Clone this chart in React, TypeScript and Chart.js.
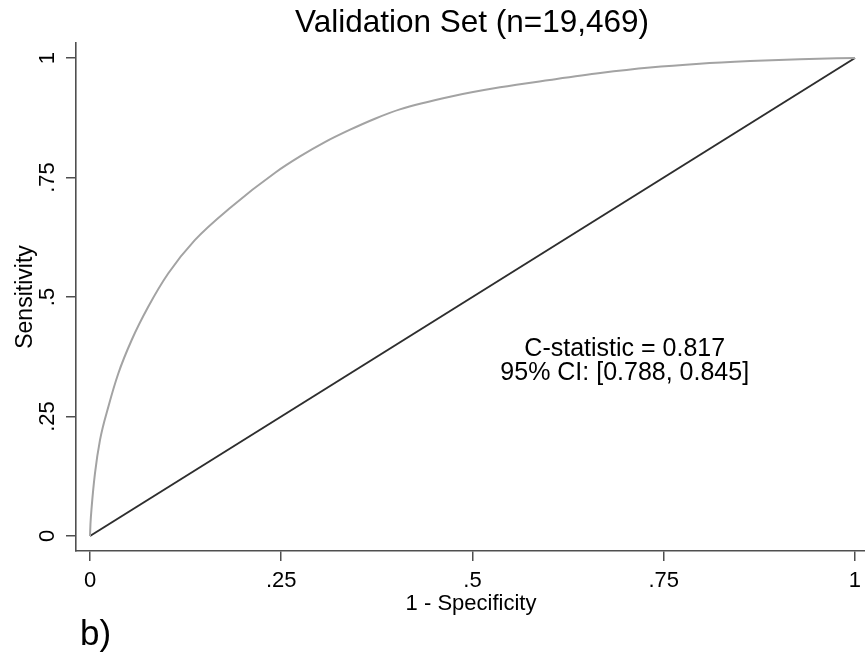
import React, { useEffect, useRef } from "react";
import { Chart, registerables } from "chart.js";

Chart.register(...registerables);

// ROC curve (1 - specificity, sensitivity)
const rocFpr = [0, 0.0006, 0.0022, 0.0065, 0.0131, 0.024, 0.037, 0.0545, 0.0763, 0.1024, 0.137, 0.185, 0.242, 0.2745, 0.307, 0.34, 0.3725, 0.405, 0.4706, 0.536, 0.601, 0.667, 0.732, 0.797, 0.863, 0.928, 1];
const rocTpr = [0, 0.025, 0.061, 0.131, 0.201, 0.2705, 0.34, 0.41, 0.48, 0.5496, 0.619, 0.689, 0.76, 0.794, 0.824, 0.85, 0.873, 0.8925, 0.919, 0.9386, 0.954, 0.9685, 0.98, 0.988, 0.9935, 0.9975, 1];

// reference (chance) line
const refX = [0, 1];
const refY = [0, 1];

const tickValues = [0, 0.25, 0.5, 0.75, 1];
const tickLabels = ["0", ".25", ".5", ".75", "1"];

const titleText = "Validation Set (n=19,469)";
const xTitle = "1 - Specificity";
const yTitle = "Sensitivity";
const noteLines = ["C-statistic = 0.817", "95% CI: [0.788, 0.845]"];
const panelLabel = "b)";

const FONT = '"Liberation Sans", Arial, sans-serif';

export default function App() {
  const ref = useRef<HTMLCanvasElement | null>(null);

  useEffect(() => {
    const canvas = ref.current;
    if (!canvas) return;

    const textPlugin = {
      id: "stataText",
      afterDraw(chart: any) {
        const ctx = chart.ctx;
        const xs = chart.scales.x;
        const ys = chart.scales.y;
        const area = chart.chartArea;
        ctx.save();
        ctx.fillStyle = "#000";

        // title
        ctx.font = `31.5px ${FONT}`;
        ctx.textAlign = "center";
        ctx.textBaseline = "alphabetic";
        ctx.fillText(titleText, 472, 32);

        // x tick labels
        ctx.font = `22px ${FONT}`;
        tickValues.forEach((v, i) => {
          ctx.fillText(tickLabels[i], xs.getPixelForValue(v), 587);
        });

        // y tick labels (rotated)
        tickValues.forEach((v, i) => {
          ctx.save();
          ctx.translate(54, ys.getPixelForValue(v));
          ctx.rotate(-Math.PI / 2);
          ctx.fillText(tickLabels[i], 0, 0);
          ctx.restore();
        });

        // axis titles
        ctx.font = `22px ${FONT}`;
        ctx.fillText(xTitle, 471, 610);
        ctx.save();
        ctx.font = `23px ${FONT}`;
        ctx.translate(32, (area.top + area.bottom) / 2);
        ctx.rotate(-Math.PI / 2);
        ctx.fillText(yTitle, 0, 0);
        ctx.restore();

        // annotation
        ctx.font = `25px ${FONT}`;
        const nx = xs.getPixelForValue(0.699);
        ctx.fillText(noteLines[0], nx, ys.getPixelForValue(0.3766));
        ctx.fillText(noteLines[1], nx, ys.getPixelForValue(0.3264));

        // panel label
        ctx.font = `35px ${FONT}`;
        ctx.textAlign = "left";
        ctx.fillText(panelLabel, 80, 645);

        ctx.restore();
      },
    };

    const setTicks = (scale: any) => {
      scale.ticks = tickValues.map((v) => ({ value: v }));
    };

    const axisColor = "#4f4f4f";

    const chart = new Chart(canvas, {
      type: "scatter",
      data: {
        datasets: [
          {
            label: "ROC",
            data: rocFpr.map((x, i) => ({ x, y: rocTpr[i] })),
            showLine: true,
            borderColor: "#a3a3a3",
            borderWidth: 2,
            pointRadius: 0,
            cubicInterpolationMode: "monotone",
            fill: false,
          },
          {
            label: "Reference",
            data: refX.map((x, i) => ({ x, y: refY[i] })),
            showLine: true,
            borderColor: "#2e2e2e",
            borderWidth: 2,
            pointRadius: 0,
            fill: false,
          },
        ],
      },
      options: {
        responsive: false,
        animation: false,
        devicePixelRatio: 1,
        layout: { padding: { left: 66, top: 43, right: 0, bottom: 95 } },
        plugins: {
          legend: { display: false },
          tooltip: { enabled: false },
          title: { display: false },
        },
        scales: {
          x: {
            type: "linear",
            min: -0.0183,
            max: 1.0131,
            afterBuildTicks: setTicks,
            ticks: { display: false },
            grid: {
              display: true,
              drawOnChartArea: false,
              drawTicks: true,
              tickLength: 10,
              color: axisColor,
              lineWidth: 1.5,
            },
            border: { display: true, color: axisColor, width: 1.6 },
          },
          y: {
            type: "linear",
            min: -0.0314,
            max: 1.0314,
            afterBuildTicks: setTicks,
            ticks: { display: false },
            grid: {
              display: true,
              drawOnChartArea: false,
              drawTicks: true,
              tickLength: 10,
              color: axisColor,
              lineWidth: 1.5,
            },
            border: { display: true, color: axisColor, width: 1.6 },
          },
        },
      },
      plugins: [textPlugin],
    } as any);

    return () => chart.destroy();
  }, []);

  return (
    <div style={{ position: "absolute", left: 0, top: 0, width: 865, height: 656, background: "#fff" }}>
      <canvas ref={ref} width={865} height={656} style={{ display: "block" }} />
    </div>
  );
}
